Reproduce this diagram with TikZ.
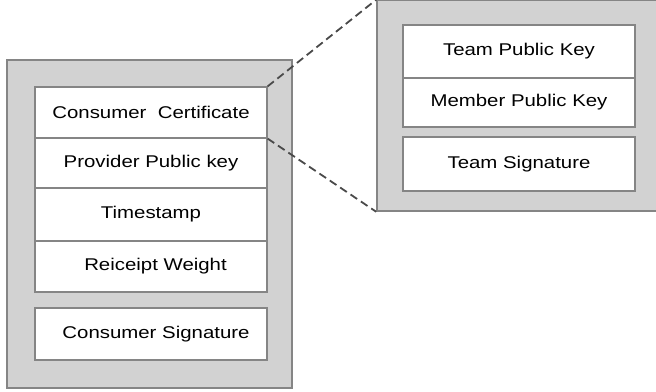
\documentclass[tikz,border=0pt]{standalone}
\usepackage{fontspec}
\setmainfont{Liberation Sans}[FakeStretch=1.2]
\definecolor{panel}{HTML}{D2D2D2}
\definecolor{edge}{HTML}{858585}
\definecolor{dash}{HTML}{4A4A4A}
\begin{document}
\begin{tikzpicture}[x=1pt,y=-1pt,
  outerbox/.style={draw=edge,fill=panel,line width=1.6pt,inner sep=0pt},
  cell/.style={draw=edge,fill=white,line width=1.2pt,inner sep=0pt,minimum width=232pt,
     font=\fontsize{17}{20}\selectfont},
  link/.style={draw=dash,line width=1.8pt,dash pattern=on 8pt off 4.5pt}]
\useasboundingbox (0,0) rectangle (656,391);
% left panel
\node[outerbox,minimum width=285pt,minimum height=328pt] (L) at (149.5,224) {};
\node[cell,minimum height=51pt] (cc) at (151,112.5) {Consumer\ \ Certificate};
\node[cell,minimum height=50pt] (pk) at (151,163) {Provider Public key};
\node[cell,minimum height=53pt] (ts) at (151,214.5) {Timestamp};
\node[cell,minimum height=51pt] (rw) at (151,266.5) {\hspace*{9pt}Reiceipt Weight};
\node[cell,minimum height=52pt] (cs) at (151,334) {\hspace*{10pt}Consumer Signature};
% right panel
\node[outerbox,minimum width=300pt,minimum height=210.5pt] (R) at (527,105.75) {};
\node[cell,minimum height=53pt] (tp) at (519,51.5) {Team Public Key};
\node[cell,minimum height=49pt] (mp) at (519,102.5) {Member Public Key};
\node[cell,minimum height=54pt] (tsig) at (519,164) {Team Signature};
% links
\draw[link] (cc.north east) -- (R.north west);
\draw[link] (cc.south east) -- (R.south west);
\end{tikzpicture}
\end{document}
